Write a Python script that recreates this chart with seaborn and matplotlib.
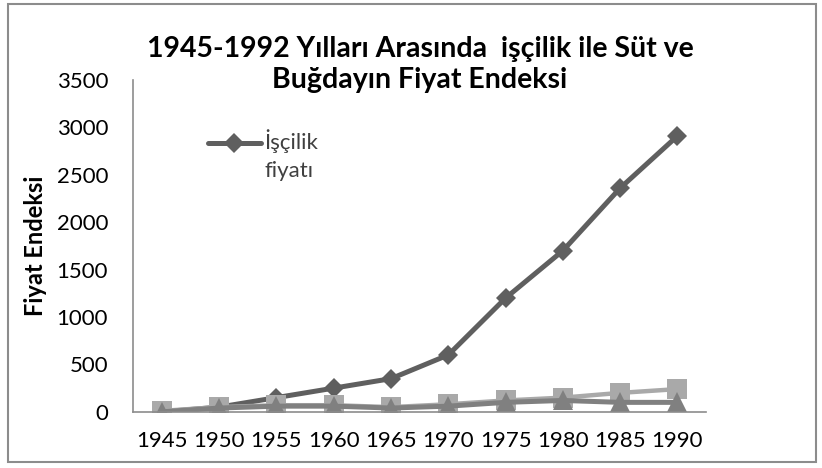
import matplotlib
matplotlib.use("Agg")
import matplotlib.pyplot as plt
from matplotlib.patches import Rectangle
import seaborn as sns

# Data
years = ['1945', '1950', '1955', '1960', '1965', '1970', '1975', '1980', '1985', '1990']
isci = [0, 50, 150, 250, 350, 600, 1200, 1700, 2360, 2910]
sut = [10, 50, 70, 70, 50, 80, 120, 150, 200, 240]
bugday = [0, 40, 60, 60, 40, 60, 100, 120, 100, 100]

sns.set_style("white")
plt.rcParams['font.family'] = ['Lato', 'DejaVu Sans']
plt.rcParams['text.color'] = 'black'

fig = plt.figure(figsize=(8.22, 4.68), dpi=100)
ax = fig.add_axes([0.162, 0.12, 0.697, 0.709])

pos = list(range(len(years)))
sns.lineplot(x=pos, y=isci, ax=ax, color='#5f5f5f', marker='D', markersize=10,
             markeredgewidth=0, linewidth=3.6, label='İşçilik\nfiyatı')
sns.lineplot(x=pos, y=sut, ax=ax, color='#a9a9a9', marker='s', markersize=14,
             markeredgewidth=0, linewidth=3.2)
sns.lineplot(x=pos, y=bugday, ax=ax, color='#808080', marker='^', markersize=15,
             markeredgewidth=0, linewidth=3.6)

ax.set_xlim(-0.5, len(years) - 0.5)
ax.set_ylim(0, 3500)
ax.set_yticks(range(0, 3501, 500))
ax.set_xticks(pos)
ax.set_xticklabels(years)
ax.tick_params(axis='y', length=0, pad=18, labelsize=16, colors='black')
ax.tick_params(axis='x', length=0, pad=14, labelsize=16, colors='black')

for side in ['top', 'right']:
    ax.spines[side].set_visible(False)
for side in ['left', 'bottom']:
    ax.spines[side].set_color('#8c8c8c')
    ax.spines[side].set_linewidth(1.2)

ax.set_ylabel('Fiyat Endeksi', fontsize=17, fontweight='bold', labelpad=7, color='black')
fig.text(0.511, 0.862, '1945-1992 Yılları Arasında  işçilik ile Süt ve\nBuğdayın Fiyat Endeksi',
         fontsize=20.5, fontweight='bold', ha='center', va='center', linespacing=1.22,
         color='black')

leg = ax.legend(loc='upper left', bbox_to_anchor=(0.095, 0.928), frameon=False,
                fontsize=16, handlelength=2.4, handletextpad=0.15, handleheight=4.2)
for t in leg.get_texts():
    t.set_linespacing(1.5)
    t.set_color('#404040')

fig.patches.append(Rectangle((0.01, 0.012), 0.983, 0.98, transform=fig.transFigure,
                             fill=False, edgecolor='#8c8c8c', linewidth=1.5))

fig.savefig('out.png', dpi=100)
